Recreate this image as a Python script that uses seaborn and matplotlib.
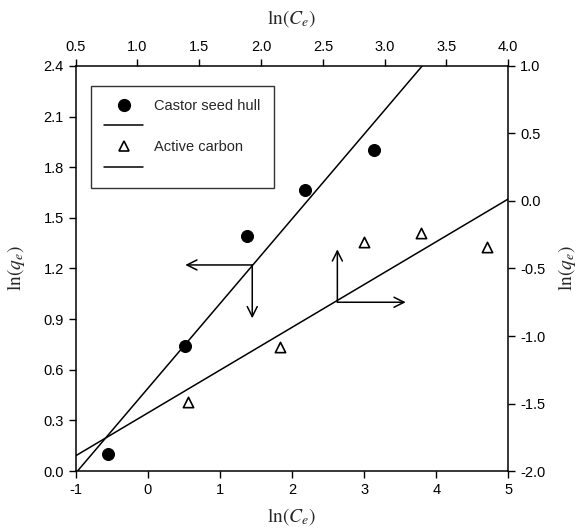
import numpy as np
import pandas as pd
import matplotlib.pyplot as plt
from matplotlib.lines import Line2D
import seaborn as sns

# castor seed hull (bottom / left axes)
castor_lnCe = [-0.55, 0.52, 1.38, 2.18, 3.14]
castor_lnqe = [0.10, 0.74, 1.39, 1.665, 1.90]

# active carbon (top / right axes)
carbon_lnCe = [1.41, 2.15, 2.835, 3.29, 3.83]
carbon_lnqe = [-1.487, -1.084, -0.304, -0.235, -0.339]

bottom_ticks = [-1, 0, 1, 2, 3, 4, 5]
left_ticks = [0.0, 0.3, 0.6, 0.9, 1.2, 1.5, 1.8, 2.1, 2.4]
top_ticks = [0.5, 1.0, 1.5, 2.0, 2.5, 3.0, 3.5, 4.0]
right_ticks = [-2.0, -1.5, -1.0, -0.5, 0.0, 0.5, 1.0]

df_c = pd.DataFrame({'x': castor_lnCe, 'y': castor_lnqe})
df_a = pd.DataFrame({'x': carbon_lnCe, 'y': carbon_lnqe})

sns.set_style('ticks')
plt.rcParams['font.family'] = ['Liberation Sans', 'DejaVu Sans']
plt.rcParams['mathtext.fontset'] = 'stix'

fig = plt.figure(figsize=(5.79, 5.30), dpi=100)
pos = [0.1307, 0.1113, 0.7472, 0.7642]
ax = fig.add_axes(pos)
ax2 = fig.add_axes(pos, frameon=False)

# --- castor seed hull
ax.set_xlim(-1, 5)
ax.set_ylim(0, 2.4)
sns.regplot(data=df_c, x='x', y='y', ax=ax, ci=None, truncate=False,
            scatter=False, line_kws={'color': 'black', 'lw': 1.1})
sns.scatterplot(data=df_c, x='x', y='y', ax=ax, marker='o', s=75,
                color='black', edgecolor='black', zorder=3)
ax.set_xlim(-1, 5)
ax.set_ylim(0, 2.4)
ax.set_xticks(bottom_ticks)
ax.set_xticklabels([str(t) for t in bottom_ticks])
ax.set_yticks(left_ticks)
ax.set_yticklabels([f'{t:.1f}' for t in left_ticks])
ax.set_xlabel(r'$\mathrm{ln}(C_e)$', fontsize=14, labelpad=7)
ax.set_ylabel(r'$\mathrm{ln}(q_e)$', fontsize=14, labelpad=12)

# --- active carbon
ax2.set_xlim(0.5, 4.0)
ax2.set_ylim(-2.0, 1.0)
sns.regplot(data=df_a, x='x', y='y', ax=ax2, ci=None, truncate=False,
            scatter=False, line_kws={'color': 'black', 'lw': 1.1})
sns.scatterplot(data=df_a, x='x', y='y', ax=ax2, marker='^', s=55,
                facecolor='white', edgecolor='black', linewidth=1.2, zorder=3)
ax2.set_xlim(0.5, 4.0)
ax2.set_ylim(-2.0, 1.0)
ax2.xaxis.tick_top()
ax2.xaxis.set_label_position('top')
ax2.yaxis.tick_right()
ax2.yaxis.set_label_position('right')
ax2.set_xticks(top_ticks)
ax2.set_xticklabels([f'{t:.1f}' for t in top_ticks])
ax2.set_yticks(right_ticks)
ax2.set_yticklabels([f'{t:.1f}' for t in right_ticks])
ax2.set_xlabel(r'$\mathrm{ln}(C_e)$', fontsize=14, labelpad=12)
ax2.set_ylabel(r'$\mathrm{ln}(q_e)$', fontsize=14, labelpad=8)

for a in (ax, ax2):
    a.tick_params(direction='out', length=5, width=1, labelsize=10.5,
                  color='black', labelcolor='black')
for s in ax.spines.values():
    s.set_linewidth(1.1)
    s.set_color('black')
    s.set_visible(True)

# arrows pointing to each line's axes
arr = dict(arrowstyle='->', color='black', lw=1.1, mutation_scale=18,
           shrinkA=0, shrinkB=0)
ax.annotate('', xy=(0.52, 1.221), xytext=(1.449, 1.221), arrowprops=arr)
ax.annotate('', xy=(1.449, 0.905), xytext=(1.449, 1.221), arrowprops=arr)
ax2.annotate('', xy=(2.617, -0.358), xytext=(2.617, -0.75), arrowprops=arr)
ax2.annotate('', xy=(3.17, -0.75), xytext=(2.617, -0.75), arrowprops=arr)

handles = [
    Line2D([], [], marker='o', color='black', ls='none', markersize=8.5),
    Line2D([], [], color='black', lw=1.1),
    Line2D([], [], marker='^', color='black', markerfacecolor='white',
           ls='none', markersize=7.5, markeredgewidth=1.2),
    Line2D([], [], color='black', lw=1.1),
]
labels = ['Castor seed hull', '', 'Active carbon', '']
leg = ax2.legend(handles, labels, loc='upper left', bbox_to_anchor=(0.035, 0.951),
                 borderaxespad=0, fontsize=10.5, frameon=True, fancybox=False,
                 edgecolor='black', handlelength=2.7, labelspacing=0.45,
                 borderpad=0.9, handletextpad=0.75)
leg.get_frame().set_linewidth(1.0)

fig.savefig('out.png', dpi=100)
